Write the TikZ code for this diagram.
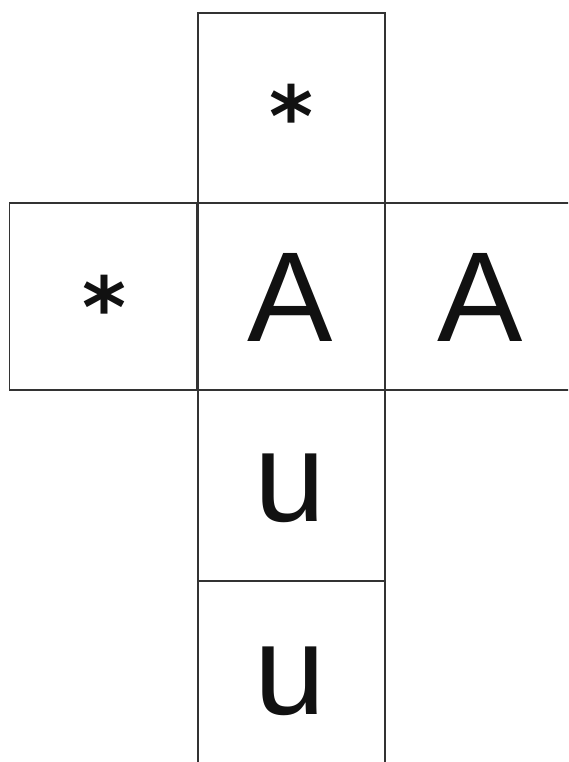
\documentclass[tikz,border=0pt]{standalone}
\usepackage{fontspec}
\setmainfont{Liberation Sans}
\newfontfamily\astfont{DejaVu Sans}
\definecolor{ink}{HTML}{111111}
\definecolor{edge}{HTML}{333333}
\tikzset{
  cell/.style={draw=edge, line width=1.1pt, inner sep=0pt, outer sep=0pt, minimum width=187pt, minimum height=#1},
  cell/.default=188pt,
  glyph/.style={text=ink, inner sep=0pt, font=\fontsize{128}{128}\selectfont},
  star/.style={text=ink, inner sep=0pt, anchor=base, font=\astfont\bfseries\fontsize{84}{84}\selectfont}
}
\begin{document}
\begin{tikzpicture}[x=1pt, y=-1pt]
\useasboundingbox (0,0) rectangle (568,762);
\clip (0,0) rectangle (568,762);
\node[cell=190pt] (top) at (291.5,108) {};
\node[cell=187pt] (left) at (103,296.5) {};
\node[cell=187pt] (mid) at (291.5,296.5) {};
\node[cell=187pt] (right) at (479,296.5) {};
\node[cell=191pt] (low1) at (291.5,485.5) {};
\node[cell=191pt] (low2) at (291.5,676.5) {};
\node[star] (s1) at (291.5,147) {*};
\node[star] (s2) at (104,337) {*};
\node[glyph, anchor=base] (a1) at (290,341) {A};
\node[glyph, anchor=base] (a2) at (480,341) {A};
\node[glyph, anchor=base] (u1) at (290,521) {u};
\node[glyph, anchor=base] (u2) at (290,714) {u};
\end{tikzpicture}
\end{document}
